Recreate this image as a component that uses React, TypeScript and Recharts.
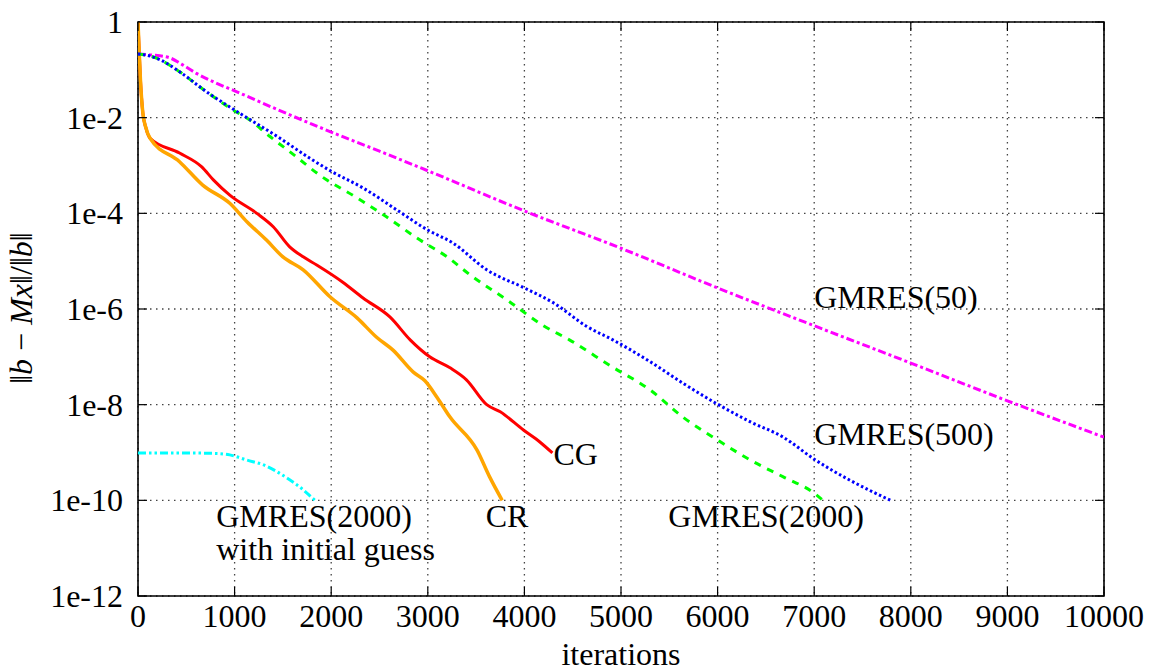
import { LineChart, Line, XAxis, YAxis, CartesianGrid, ReferenceArea, ReferenceDot } from "recharts";

// convergence history: iteration count vs log10 of relative residual
const W = 1153;
const H = 671;
const PLOT = { left: 138, top: 22, right: 1104, bottom: 596 };
const TICK_LEN = 9;
const TXT = { fontFamily: "'Liberation Serif', 'Times New Roman', serif", fontSize: 32, fill: "#000" };

const xTicks = [0, 1000, 2000, 3000, 4000, 5000, 6000, 7000, 8000, 9000, 10000];
const yTicks = [0, -2, -4, -6, -8, -10, -12];
const yTickLabels = ["1", "1e-2", "1e-4", "1e-6", "1e-8", "1e-10", "1e-12"];

// CG
const cgIter = [0, 10, 25, 50, 80, 125, 430, 660, 780, 950, 1230, 1400, 1570, 1710, 1850, 2120, 2330, 2610, 2820, 3020, 3230, 3400, 3610, 3750, 3990, 4160, 4290];
const cgRes = [0, -0.5, -1.2, -1.9, -2.2, -2.43, -2.74, -3.03, -3.3, -3.62, -4.0, -4.28, -4.7, -4.91, -5.08, -5.44, -5.77, -6.17, -6.65, -7.0, -7.23, -7.48, -8.0, -8.15, -8.53, -8.78, -9.01];

// CR
const crIter = [0, 10, 25, 50, 80, 125, 430, 670, 950, 1130, 1330, 1500, 1710, 1990, 2270, 2470, 2640, 2850, 2970, 3100, 3230, 3510, 3640, 3770];
const crRes = [0, -0.5, -1.2, -1.9, -2.2, -2.43, -2.92, -3.41, -3.79, -4.18, -4.56, -4.91, -5.18, -5.75, -6.19, -6.59, -6.86, -7.32, -7.5, -7.86, -8.26, -8.95, -9.51, -10.0];

// GMRES(50)
const g50Iter = [0, 150, 330, 450, 610, 800, 1000, 1500, 2000, 2500, 3000, 4000, 5000, 6000, 7000, 8000, 9000, 10000];
const g50Res = [-0.67, -0.69, -0.75, -0.88, -1.08, -1.27, -1.44, -1.88, -2.3, -2.7, -3.11, -3.95, -4.73, -5.56, -6.35, -7.13, -7.92, -8.68];

// GMRES(500)
const g500Iter = [0, 100, 230, 430, 710, 1000, 1470, 1780, 2000, 2330, 2680, 3000, 3260, 3610, 4000, 4300, 4650, 4920, 5300, 5640, 6000, 6340, 6680, 7000, 7370, 7790];
const g500Res = [-0.67, -0.7, -0.79, -1.04, -1.46, -1.84, -2.43, -2.85, -3.12, -3.47, -3.93, -4.35, -4.62, -5.18, -5.56, -5.87, -6.37, -6.65, -7.1, -7.55, -7.99, -8.36, -8.68, -9.14, -9.58, -10.0];

// GMRES(2000)
const g2000Iter = [0, 100, 230, 430, 710, 1000, 1130, 1370, 1640, 1880, 2270, 2540, 2920, 3200, 3440, 3820, 4190, 4470, 4900, 5300, 5640, 6000, 6340, 6680, 7000, 7090];
const g2000Res = [-0.67, -0.7, -0.79, -1.04, -1.46, -1.86, -2.01, -2.4, -2.82, -3.2, -3.68, -4.03, -4.56, -4.91, -5.29, -5.81, -6.34, -6.65, -7.2, -7.69, -8.26, -8.74, -9.16, -9.51, -9.85, -10.0];

// GMRES(2000) started from an initial guess
const guessIter = [0, 500, 800, 950, 1130, 1300, 1540, 1710, 1830];
const guessRes = [-9.01, -9.01, -9.02, -9.05, -9.16, -9.26, -9.53, -9.78, -10.0];

// text annotations next to the curves (left edge, baseline)
const noteText = ["GMRES(50)", "GMRES(500)", "CG", "CR", "GMRES(2000)", "GMRES(2000)", "with initial guess"];
const noteIter = [7000, 7000, 4300, 3600, 5490, 810, 810];
const noteRes = [-5.98, -8.84, -9.26, -10.56, -10.56, -10.56, -11.24];

const pts = (xs: number[], ys: number[]) => xs.map((x, i) => ({ x, y: ys[i] }));

const series = [
  { name: "CG", data: pts(cgIter, cgRes), color: "#ff0000", dash: undefined, width: 3 },
  { name: "CR", data: pts(crIter, crRes), color: "#ffa500", dash: undefined, width: 3.5 },
  { name: "GMRES(50)", data: pts(g50Iter, g50Res), color: "#ff00ff", dash: "8 3 3 3", width: 3 },
  { name: "GMRES(2000)", data: pts(g2000Iter, g2000Res), color: "#00ff00", dash: "7 7", width: 3 },
  { name: "GMRES(500)", data: pts(g500Iter, g500Res), color: "#0000ff", dash: "2.5 2.5", width: 3 },
  { name: "guess", data: pts(guessIter, guessRes), color: "#00ffff", dash: "8 3 2.5 3 2.5 3", width: 3 },
];

function XTick(props: any) {
  const { x, payload } = props;
  return (
    <g>
      <line x1={x} y1={PLOT.bottom} x2={x} y2={PLOT.bottom - TICK_LEN} stroke="#000" strokeWidth={1.2} />
      <line x1={x} y1={PLOT.top} x2={x} y2={PLOT.top + TICK_LEN} stroke="#000" strokeWidth={1.2} />
      <text x={x} y={627} textAnchor="middle" style={TXT}>
        {payload.value}
      </text>
    </g>
  );
}

function YTick(props: any) {
  const { y, payload } = props;
  const idx = yTicks.indexOf(payload.value);
  return (
    <g>
      <line x1={PLOT.left} y1={y} x2={PLOT.left + TICK_LEN} y2={y} stroke="#000" strokeWidth={1.2} />
      <line x1={PLOT.right} y1={y} x2={PLOT.right - TICK_LEN} y2={y} stroke="#000" strokeWidth={1.2} />
      <text x={123} y={y + 11} textAnchor="end" style={TXT}>
        {yTickLabels[idx]}
      </text>
    </g>
  );
}

export default function App() {
  return (
    <div style={{ position: "absolute", left: 0, top: 0, width: W, height: H, background: "#fff" }}>
      <LineChart
        width={W}
        height={H}
        margin={{ left: PLOT.left - 60, top: PLOT.top, right: W - PLOT.right, bottom: H - PLOT.bottom - 30 }}
      >
        <CartesianGrid stroke="#444" strokeWidth={1.3} strokeDasharray="1.5 4.5" />
        <XAxis
          dataKey="x"
          type="number"
          domain={[0, 10000]}
          ticks={xTicks}
          allowDataOverflow
          height={30}
          axisLine={false}
          tickLine={false}
          tickSize={0}
          tick={<XTick />}
          interval={0}
          label={{
            content: () => (
              <text x={621} y={665} textAnchor="middle" style={TXT}>
                iterations
              </text>
            ),
          }}
        />
        <YAxis
          type="number"
          domain={[-12, 0]}
          ticks={yTicks}
          allowDataOverflow
          width={60}
          axisLine={false}
          tickLine={false}
          tickSize={0}
          tick={<YTick />}
          interval={0}
          label={{
            content: () => (
              <text x={0} y={0} transform="translate(32 308) rotate(-90)" textAnchor="middle" style={TXT}>
                ‖<tspan fontStyle="italic">b</tspan> − <tspan fontStyle="italic">Mx</tspan>‖/‖<tspan fontStyle="italic">b</tspan>‖
              </text>
            ),
          }}
        />
        <ReferenceArea x1={0} x2={10000} y1={-12} y2={0} fill="none" stroke="#000" strokeWidth={1.6} ifOverflow="visible" />
        {series.map((s) => (
          <Line
            key={s.name}
            data={s.data}
            dataKey="y"
            type="monotone"
            stroke={s.color}
            strokeWidth={s.width}
            strokeDasharray={s.dash}
            dot={false}
            activeDot={false}
            isAnimationActive={false}
          />
        ))}
        {noteText.map((t, i) => (
          <ReferenceDot
            key={i}
            x={noteIter[i]}
            y={noteRes[i]}
            r={0}
            ifOverflow="visible"
            shape={(p: any) => (
              <text x={p.cx} y={p.cy} style={TXT}>
                {t}
              </text>
            )}
          />
        ))}
      </LineChart>
    </div>
  );
}
